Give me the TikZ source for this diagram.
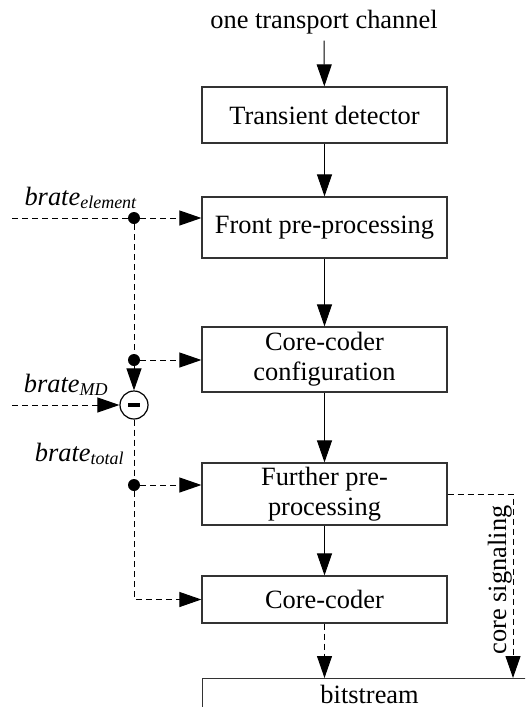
\documentclass[tikz,border=0pt]{standalone}
\usepackage{fontspec}
\setmainfont{Liberation Serif}
\usetikzlibrary{arrows.meta}

\newcommand{\brate}[1]{\textit{brate}\raisebox{-1.5pt}{\fontsize{9}{9}\selectfont\textit{#1}}}

\begin{document}
\begin{tikzpicture}[x=0.5pt,y=-0.5pt,
		font=\fontsize{13.2}{15}\selectfont,
		box/.style={draw=black!80, line width=0.6pt, minimum width=122.5pt, align=center, inner sep=0pt},
		arr/.style={-{Triangle[length=11pt,width=7.5pt]}, line width=0.5pt},
		sig/.style={line width=0.5pt, dash pattern=on 3pt off 2pt},
		dot/.style={circle, fill, inner sep=0pt, minimum size=6pt},
		lbl/.style={anchor=base east, inner sep=0pt}]
		\useasboundingbox (0,0) rectangle (525,707);
		\clip (0,0) rectangle (525,707);

		%% main chain
		\node[anchor=base] at (324,28)(chan){one transport channel};
		\node[box, minimum height=28pt] at (324.5,115)(trans){Transient detector};
		\node[box, minimum height=30.5pt] at (324.5,227.5)(front){Front pre-processing};
		\node[box, minimum height=32.5pt] at (324.5,359.5)(config){Core-coder\\configuration};
		\node[box, minimum height=31pt] at (324.5,494)(further){Further pre-\\processing};
		\node[box, minimum height=23.5pt] at (324.5,599.5)(core){Core-coder};
		\node[box, anchor=north west, minimum width=167pt, minimum height=16pt] at (202,678)(bits){bitstream};

		\path[arr] (chan)edge(trans)(trans)edge(front)(front)edge(config)
			(config)edge(further)(further)edge(core);

		%% bitrates
		\coordinate (eIn) at (12,218);
		\node[dot] at (134,218)(dE){};
		\node[lbl] at (137,205)(lE){\brate{element}};

		\node[dot] at (134,360)(dC){};

		\coordinate (mIn) at (12,405);
		\node[circle, draw, fill=white, line width=0.6pt, minimum size=14pt, inner sep=0pt] at (134,405)(sub){\rule[-0.9pt]{6pt}{1.8pt}};
		\node[lbl] at (108,392)(lM){\brate{MD}};

		\node[dot] at (134,485)(dT){};
		\node[lbl] at (124,461)(lT){\brate{total}};

		\draw[sig] (eIn)--(dE)--(dC);
		\draw[sig, arr] (dE)--(front.west |- dE);
		\draw[sig, arr] (dC)--(config.west |- dC);
		\draw[sig, arr] (dC)--(sub);
		\draw[sig, arr] (mIn)--(sub);
		\draw[sig] (sub)--(dT);
		\draw[sig, arr] (dT)--(further.west |- dT);
		\draw[sig, arr] (dT)|-(core.west);

		%% outputs
		\coordinate (sigc) at (513,494);
		\draw[sig, arr] (further.east)--(sigc)--(sigc |- bits.north);
		\node[rotate=90, anchor=base] at (506,580)(sigl){core signaling};
		\draw[sig, arr] (core.south)--(core.south |- bits.north);
\end{tikzpicture}
\end{document}
